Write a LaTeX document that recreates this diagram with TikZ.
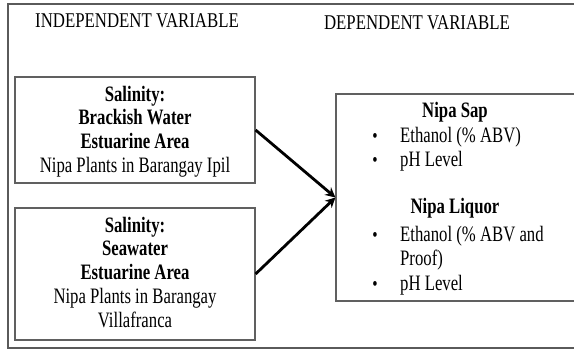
\documentclass[tikz,border=0pt]{standalone}
\usepackage{fontspec}
\setmainfont{Liberation Serif}[FakeStretch=0.76]
\newfontfamily\ttlfont{Liberation Serif}[FakeStretch=0.8]
\usetikzlibrary{arrows.meta}
\definecolor{framegray}{HTML}{5A5A5A}
\definecolor{boxgray}{HTML}{606060}
\begin{document}
\begin{tikzpicture}[x=1pt,y=-1pt,
  box/.style={draw=boxgray, line width=1.2pt, inner sep=0pt},
  txt/.style={anchor=base, inner sep=0pt, font=\fontsize{22}{24}\selectfont},
  btxt/.style={anchor=base, inner sep=0pt, font=\fontsize{22}{24}\selectfont\bfseries},
  ttl/.style={anchor=base, inner sep=0pt, font=\fontsize{21}{24}\ttlfont},
  itm/.style={anchor=base west, inner sep=0pt, font=\fontsize{22}{24}\selectfont},
  bul/.style={anchor=base, inner sep=0pt, font=\fontsize{20}{24}\selectfont},
  arr/.style={line width=2.8pt, -{Stealth[length=10pt,width=10pt]}}]
\useasboundingbox (0,0) rectangle (574,349);
% outer frame
\draw[framegray, line width=1.3pt] (600,4) -- (8,4) -- (8,348) -- (600,348);
% titles
\node[ttl] (tind) at (137,27) {INDEPENDENT VARIABLE};
\node[ttl] (tdep) at (417,29) {DEPENDENT VARIABLE};
% boxes
\node[box, minimum width=240pt, minimum height=106pt] (b1) at (135,130) {};
\node[box, minimum width=240pt, minimum height=132pt] (b2) at (135,274) {};
\node[box, minimum width=254pt, minimum height=207pt] (r) at (463,197.5) {};
% box 1 text
\node[btxt] (b1a) at (135,101) {Salinity:};
\node[btxt] (b1b) at (135,124.5) {Brackish Water};
\node[btxt] (b1c) at (135,148.5) {Estuarine Area};
\node[txt]  (b1d) at (135,172) {Nipa Plants in Barangay Ipil};
% box 2 text
\node[btxt] (b2a) at (135,232) {Salinity:};
\node[btxt] (b2b) at (135,255.5) {Seawater};
\node[btxt] (b2c) at (135,279.5) {Estuarine Area};
\node[txt]  (b2d) at (135,303) {Nipa Plants in Barangay};
\node[txt]  (b2e) at (135,327) {Villafranca};
% right box text
\node[btxt] (ra) at (455,117) {Nipa Sap};
\node[bul] (rb1) at (375,142) {\textbullet};
\node[itm] (rb) at (400,142) {Ethanol (\% ABV)};
\node[bul] (rc1) at (375,166) {\textbullet};
\node[itm] (rc) at (400,166) {pH Level};
\node[btxt] (rd) at (455,213) {Nipa Liquor};
\node[bul] (re1) at (375,241) {\textbullet};
\node[itm] (re) at (400,241) {Ethanol (\% ABV and};
\node[itm] (rf) at (400,265) {Proof)};
\node[bul] (rg1) at (375,290) {\textbullet};
\node[itm] (rg) at (400,290) {pH Level};
% arrows
\draw[arr] (b1.east) -- (r.west);
\draw[arr] (b2.east) -- (r.west);
\end{tikzpicture}
\end{document}
